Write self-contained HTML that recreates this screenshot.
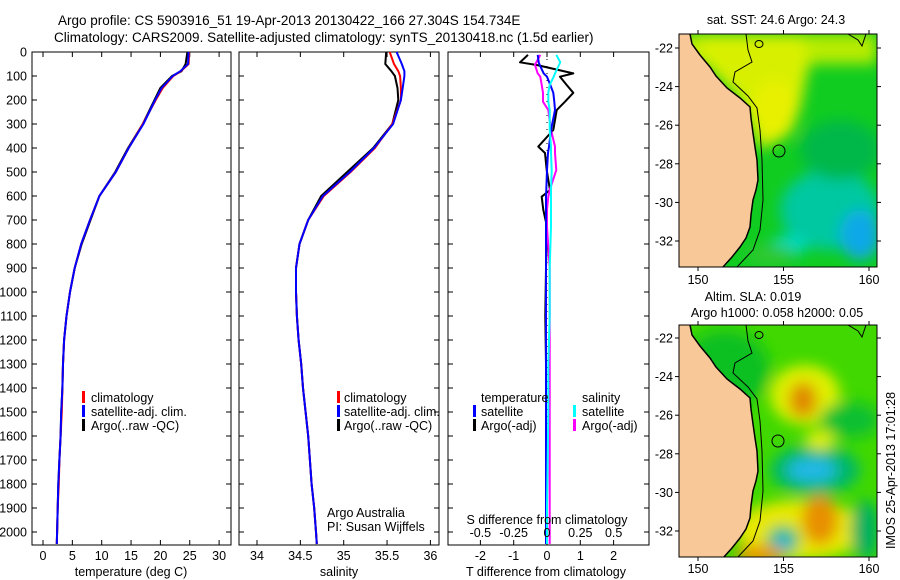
<!DOCTYPE html>
<html><head><meta charset="utf-8"><style>
body{margin:0;background:#fff;}
svg{display:block;font-family:"Liberation Sans",sans-serif;}
text{font-size:12.5px;fill:#000;}
</style></head><body>
<svg id="fig" width="900" height="580" viewBox="0 0 900 580">
<defs>
 <filter id="blur6" x="-50%" y="-50%" width="200%" height="200%"><feGaussianBlur stdDeviation="7"/></filter>
 <clipPath id="mclip"><rect x="679" y="34" width="198" height="233"/></clipPath>
 <clipPath id="mclip2"><rect x="679" y="325" width="198" height="232"/></clipPath>
 <g id="land">
  <polygon points="679,34 690,34 692,44 700,55 710,67 716,76 727,88 740,98 750,107 751,118 753,133 755,147 757,160 758,180 756,190 753,200 751,215 750,227 746,238 740,247 732,257 723,267 679,267" fill="#f8c898"/>
  <polyline points="690,34 692,44 700,55 710,67 716,76 727,88 740,98 750,107 751,118 753,133 755,147 757,160 758,180 756,190 753,200 751,215 750,227 746,238 740,247 732,257 723,267" fill="none" stroke="#000" stroke-width="1.5"/>
  <polyline points="746,34 748,50 752,62 735,72 733,82 748,96 757,108 760,130 762,160 763,200 760,230 753,250 737,267" fill="none" stroke="#000" stroke-width="1"/>
  <polyline points="848,34 858,40 862,46 866,34" fill="none" stroke="#000" stroke-width="1"/>
  <ellipse cx="759" cy="44" rx="4" ry="3.5" fill="none" stroke="#000" stroke-width="1"/>
 </g>
</defs>
<text x="58" y="25" style="font-size:13.5px">Argo profile: CS 5903916_51 19-Apr-2013 20130422_166 27.304S 154.734E</text>
<text x="54" y="42" style="font-size:13.5px">Climatology: CARS2009. Satellite-adjusted climatology: synTS_20130418.nc (1.5d earlier)</text>

<!-- map 1 -->
<g>
 <g clip-path="url(#mclip)">
  <rect x="679" y="34" width="198" height="233" fill="#10cc20"/>
  <g filter="url(#blur6)">
   <rect x="679" y="34" width="198" height="30" fill="#b8ec00"/>
   <polygon points="700,34 800,34 810,60 800,110 780,140 760,150 740,100 700,60" fill="#d8f000"/>
   <ellipse cx="775" cy="110" rx="22" ry="30" fill="#e8f000"/>
   <ellipse cx="830" cy="210" rx="50" ry="40" fill="#00c8a0"/>
   <ellipse cx="860" cy="235" rx="20" ry="25" fill="#10a8e8"/>
   <ellipse cx="790" cy="245" rx="18" ry="10" fill="#00d8c0"/>
   <ellipse cx="840" cy="150" rx="40" ry="30" fill="#00b848"/>
   <ellipse cx="770" cy="255" rx="25" ry="10" fill="#30c830"/>
  </g>
  <use href="#land"/>
  <circle cx="779" cy="151" r="6" fill="none" stroke="#000" stroke-width="1"/>
 </g>
 <rect x="679" y="34" width="198" height="233" fill="none" stroke="#000" stroke-width="1"/>
 <text x="776" y="24" text-anchor="middle">sat. SST: 24.6 Argo: 24.3</text>
</g>
<!-- map 2 -->
<g>
 <g clip-path="url(#mclip2)">
  <rect x="679" y="325" width="198" height="232" fill="#40d800"/>
  <g filter="url(#blur6)">
   <ellipse cx="725" cy="370" rx="45" ry="40" fill="#10c020"/>
   <ellipse cx="805" cy="395" rx="35" ry="30" fill="#e0f000"/>
   <ellipse cx="803" cy="400" rx="14" ry="18" fill="#e08800"/>
   <ellipse cx="850" cy="420" rx="30" ry="18" fill="#10c030"/>
   <ellipse cx="815" cy="470" rx="45" ry="25" fill="#00b868"/>
   <ellipse cx="812" cy="470" rx="25" ry="12" fill="#20b8e8"/>
   <ellipse cx="800" cy="530" rx="65" ry="30" fill="#e8e800"/>
   <ellipse cx="820" cy="520" rx="18" ry="25" fill="#e89000"/>
   <ellipse cx="783" cy="540" rx="16" ry="14" fill="#00b878"/>
   <ellipse cx="783" cy="542" rx="7" ry="7" fill="#30b8f0"/>
   <ellipse cx="760" cy="555" rx="25" ry="10" fill="#e89800"/>
   <ellipse cx="820" cy="440" rx="15" ry="10" fill="#e0f000"/>
   <ellipse cx="865" cy="530" rx="14" ry="30" fill="#00b060"/>
  </g>
  <g transform="translate(0,291)"><use href="#land"/></g>
  <circle cx="778" cy="441" r="6" fill="none" stroke="#000" stroke-width="1"/>
 </g>
 <rect x="679" y="325" width="198" height="232" fill="none" stroke="#000" stroke-width="1"/>
 <text x="753" y="301" text-anchor="middle">Altim. SLA: 0.019</text>
 <text x="777" y="317" text-anchor="middle">Argo h1000: 0.058 h2000: 0.05</text>
</g>
<text transform="translate(895,549) rotate(-90)">IMOS 25-Apr-2013 17:01:28</text>
<g id="charts"></g>
</svg>
<script>
// ---- data ----
var depthT = [0,50,80,100,150,200,300,400,500,600,700,800,900,1000,1100,1200,1300,1400,1500,1600,1700,1800,1900,2000,2050];
var tempArgo = [24.6,24.3,23.6,22.0,20.0,19.0,17.0,14.5,12.3,9.6,8.1,6.6,5.4,4.6,4.0,3.6,3.4,3.3,3.1,3.0,2.8,2.6,2.5,2.4,2.35];
var tempClim = [24.9,24.8,23.5,22.2,20.4,19.2,17.0,14.6,12.4,9.6,8.0,6.5,5.4,4.6,4.0,3.6,3.4,3.3,3.2,3.0,2.8,2.7,2.5,2.4,2.35];
var tempSat = [24.8,24.7,23.4,22.1,20.2,19.1,17.1,14.6,12.4,9.6,8.0,6.5,5.4,4.6,4.0,3.6,3.4,3.3,3.1,3.0,2.8,2.6,2.5,2.4,2.35];
var salArgo = [35.49,35.48,35.55,35.59,35.62,35.63,35.56,35.34,35.04,34.74,34.59,34.49,34.45,34.45,34.46,34.48,34.51,34.53,34.56,34.59,34.61,34.63,34.66,34.68,34.69];
var salClim = [35.53,35.58,35.63,35.65,35.66,35.66,35.56,35.36,35.08,34.77,34.59,34.49,34.45,34.45,34.46,34.48,34.51,34.53,34.56,34.59,34.61,34.63,34.66,34.68,34.69];
var salSat = [35.61,35.67,35.70,35.70,35.68,35.66,35.57,35.35,35.07,34.76,34.59,34.49,34.45,34.45,34.46,34.48,34.51,34.53,34.56,34.59,34.61,34.63,34.66,34.68,34.69];
var depthD = [12,43,54,89,103,137,170,207,242,325,394,421,492,575,603,658,728,900,1100,1300,1500,1700,1900,2050];
var dTArgo = [-0.57,-0.81,-0.31,0.79,0.39,0.59,0.79,0.54,0.29,0.19,-0.26,-0.06,-0.01,0.09,-0.16,-0.11,0,-0.03,-0.05,-0.03,-0.03,-0.03,-0.03,-0.03];
var dTSat = [-0.28,-0.25,-0.22,-0.1,0,0.1,0.19,0.22,0.24,0.12,0.06,0.03,0,-0.02,-0.03,-0.03,-0.03,-0.03,-0.03,-0.03,-0.03,-0.03,-0.03,-0.03];
var dSArgo = [-0.05,-0.08,-0.09,-0.07,-0.05,-0.04,-0.03,-0.03,0.01,0.03,0.06,0.06,0.07,0.02,0.01,0,0,0.02,0.02,0.02,0.02,0.02,0.02,0.02];
var dSSat = [0.07,0.1,0.09,0.06,0.05,0.02,0.01,0.01,0.02,0.02,0.03,0.03,0.035,0.03,0.03,0.03,0.03,0.02,0.02,0.01,0.01,0.005,0,0];
var depthTicks = [0,100,200,300,400,500,600,700,800,900,1000,1100,1200,1300,1400,1500,1600,1700,1800,1900,2000];
var tempTicks = [0,5,10,15,20,25,30];
var salTicks = [34,34.5,35,35.5,36];
var dTTicks = [-2,-1,0,1,2];
var dSTickLabels = ["-0.5","-0.25","0","0.25","0.5"];
var dSTicks = [-0.5,-0.25,0,0.25,0.5];
var latTicks = [-22,-24,-26,-28,-30,-32];
var lonTicks = [150,155,160];

// ---- scales ----
function yD(d){return 52+0.24*d;}
function x1(t){return 43+5.87*t;}
function x2(s){return 257+86.7*(s-34);}
function x3T(t){return 547+33.3*t;}
function x3S(s){return 547+133.3*s;}
function latY1(l){return 48+19.3*(-22-l);}
function latY2(l){return 338+19.3*(-22-l);}
function lonX(l){return 698+17.1*(l-150);}

var NS='http://www.w3.org/2000/svg';
var root=document.getElementById('charts');
function mk(tag,attrs,name,inter,parent){
  var el=document.createElementNS(NS,tag);
  for(var k in attrs) el.setAttribute(k,attrs[k]);
  
  
  (parent||root).appendChild(el);
  return el;
}
function txt(x,y,s,anchor,name){var t=mk('text',{x:x,y:y,'text-anchor':anchor||'start'},name,'false');t.textContent=s;return t;}
function line(xs,ds,fx,color,name,w){
  var p=[];for(var i=0;i<xs.length;i++)p.push(fx(xs[i]).toFixed(1)+','+yD(ds[i]).toFixed(1));
  mk('polyline',{points:p.join(' '),fill:'none',stroke:color,'stroke-width':w||2,'stroke-linejoin':'round'},name,'false');
}
function panel(x0,x1p,name,xt,fx,xlabels,ylabels){
  var g=mk('g',{},name,'false');
  mk('rect',{x:x0,y:52,width:x1p-x0,height:493,fill:'none',stroke:'#000','stroke-width':1},name+'-frame','false',g);
  depthTicks.forEach(function(d){
    var y=yD(d);
    mk('line',{x1:x0,y1:y,x2:x0+5,y2:y,stroke:'#000'},'y-tick','false',g);
    mk('line',{x1:x1p,y1:y,x2:x1p-5,y2:y,stroke:'#000'},'y-tick','false',g);
    if(ylabels){txt(27,y+4.5,String(d),'end','y-tick-label');}
  });
  xt.forEach(function(v,i){
    var x=fx(v);
    mk('line',{x1:x,y1:52,x2:x,y2:57,stroke:'#000'},'x-tick','false',g);
    mk('line',{x1:x,y1:545,x2:x,y2:540,stroke:'#000'},'x-tick','false',g);
    if(xlabels) txt(x,560,xlabels[i],'middle','x-tick-label');
  });
}
function legendBar(x,y,color,name){mk('rect',{x:x,y:y,width:3,height:12,fill:color},name,'false');}

// panel 1
panel(32,231,'temperature-panel',tempTicks,x1,tempTicks.map(String),true);
line(tempArgo,depthT,x1,'#000','temp-argo-line');
line(tempClim,depthT,x1,'#f00','temp-climatology-line');
line(tempSat,depthT,x1,'#00f','temp-satellite-line');
txt(131,576,'temperature (deg C)','middle','x-axis-title-temperature');
legendBar(82,391,'#f00','legend-marker-climatology');txt(91,402,'climatology','start','legend-climatology');
legendBar(82,405,'#00f','legend-marker-satellite');txt(91,416,'satellite-adj. clim.','start','legend-satellite');
legendBar(82,419,'#000','legend-marker-argo');txt(91,430,'Argo(..raw -QC)','start','legend-argo');

// panel 2
panel(239,439,'salinity-panel',salTicks,x2,salTicks.map(String),false);
line(salArgo,depthT,x2,'#000','sal-argo-line');
line(salClim,depthT,x2,'#f00','sal-climatology-line');
line(salSat,depthT,x2,'#00f','sal-satellite-line');
txt(339,576,'salinity','middle','x-axis-title-salinity');
legendBar(337,391,'#f00','legend-marker-climatology-2');txt(344,402,'climatology','start','legend-climatology-2');
legendBar(337,405,'#00f','legend-marker-satellite-2');txt(344,416,'satellite-adj. clim.','start','legend-satellite-2');
legendBar(337,419,'#000','legend-marker-argo-2');txt(344,430,'Argo(..raw -QC)','start','legend-argo-2');
txt(327,517,'Argo Australia','start','credit-argo-australia');
txt(327,531,'PI: Susan Wijffels','start','credit-pi');

// panel 3
panel(448,649,'difference-panel',dTTicks,x3T,dTTicks.map(String),false);
mk('line',{x1:547,y1:52,x2:547,y2:545,stroke:'#000','stroke-dasharray':'1,6'},'zero-line','false');
line(dTArgo,depthD,x3T,'#000','dT-argo-line');
line(dSArgo,depthD,x3S,'#f0f','dS-argo-line');
line(dTSat,depthD,x3T,'#00f','dT-satellite-line');
line(dSSat,depthD,x3S,'#0ff','dS-satellite-line');
dSTicks.forEach(function(v,i){txt(x3S(v),537,dSTickLabels[i],'middle','s-tick-label');});
txt(547,524,'S difference from climatology','middle','s-axis-title');
txt(546,576,'T difference from climatology','middle','x-axis-title-t-diff');
txt(481,402,'temperature','start','legend-temperature-header');
legendBar(473,405,'#00f','legend-marker-t-satellite');txt(481,416,'satellite','start','legend-t-satellite');
legendBar(473,419,'#000','legend-marker-t-argo');txt(481,430,'Argo(-adj)','start','legend-t-argo');
txt(582,402,'salinity','start','legend-salinity-header');
legendBar(573,405,'#0ff','legend-marker-s-satellite');txt(582,416,'satellite','start','legend-s-satellite');
legendBar(573,419,'#f0f','legend-marker-s-argo');txt(582,430,'Argo(-adj)','start','legend-s-argo');

// map axes
[[latY1,34,267,284],[latY2,325,557,573]].forEach(function(m){
  latTicks.forEach(function(l){var y=m[0](l);
    mk('line',{x1:679,y1:y,x2:675,y2:y,stroke:'#000'},'lat-tick','false');
    mk('line',{x1:877,y1:y,x2:881,y2:y,stroke:'#000'},'lat-tick','false');
    txt(673,y+4.5,String(l),'end','lat-tick-label');});
  lonTicks.forEach(function(l){var x=lonX(l);
    mk('line',{x1:x,y1:m[1],x2:x,y2:m[1]-4,stroke:'#000'},'lon-tick','false');
    mk('line',{x1:x,y1:m[2],x2:x,y2:m[2]+4,stroke:'#000'},'lon-tick','false');
    txt(x,m[3],String(l),'middle','lon-tick-label');});
});
</script>
</body></html>
